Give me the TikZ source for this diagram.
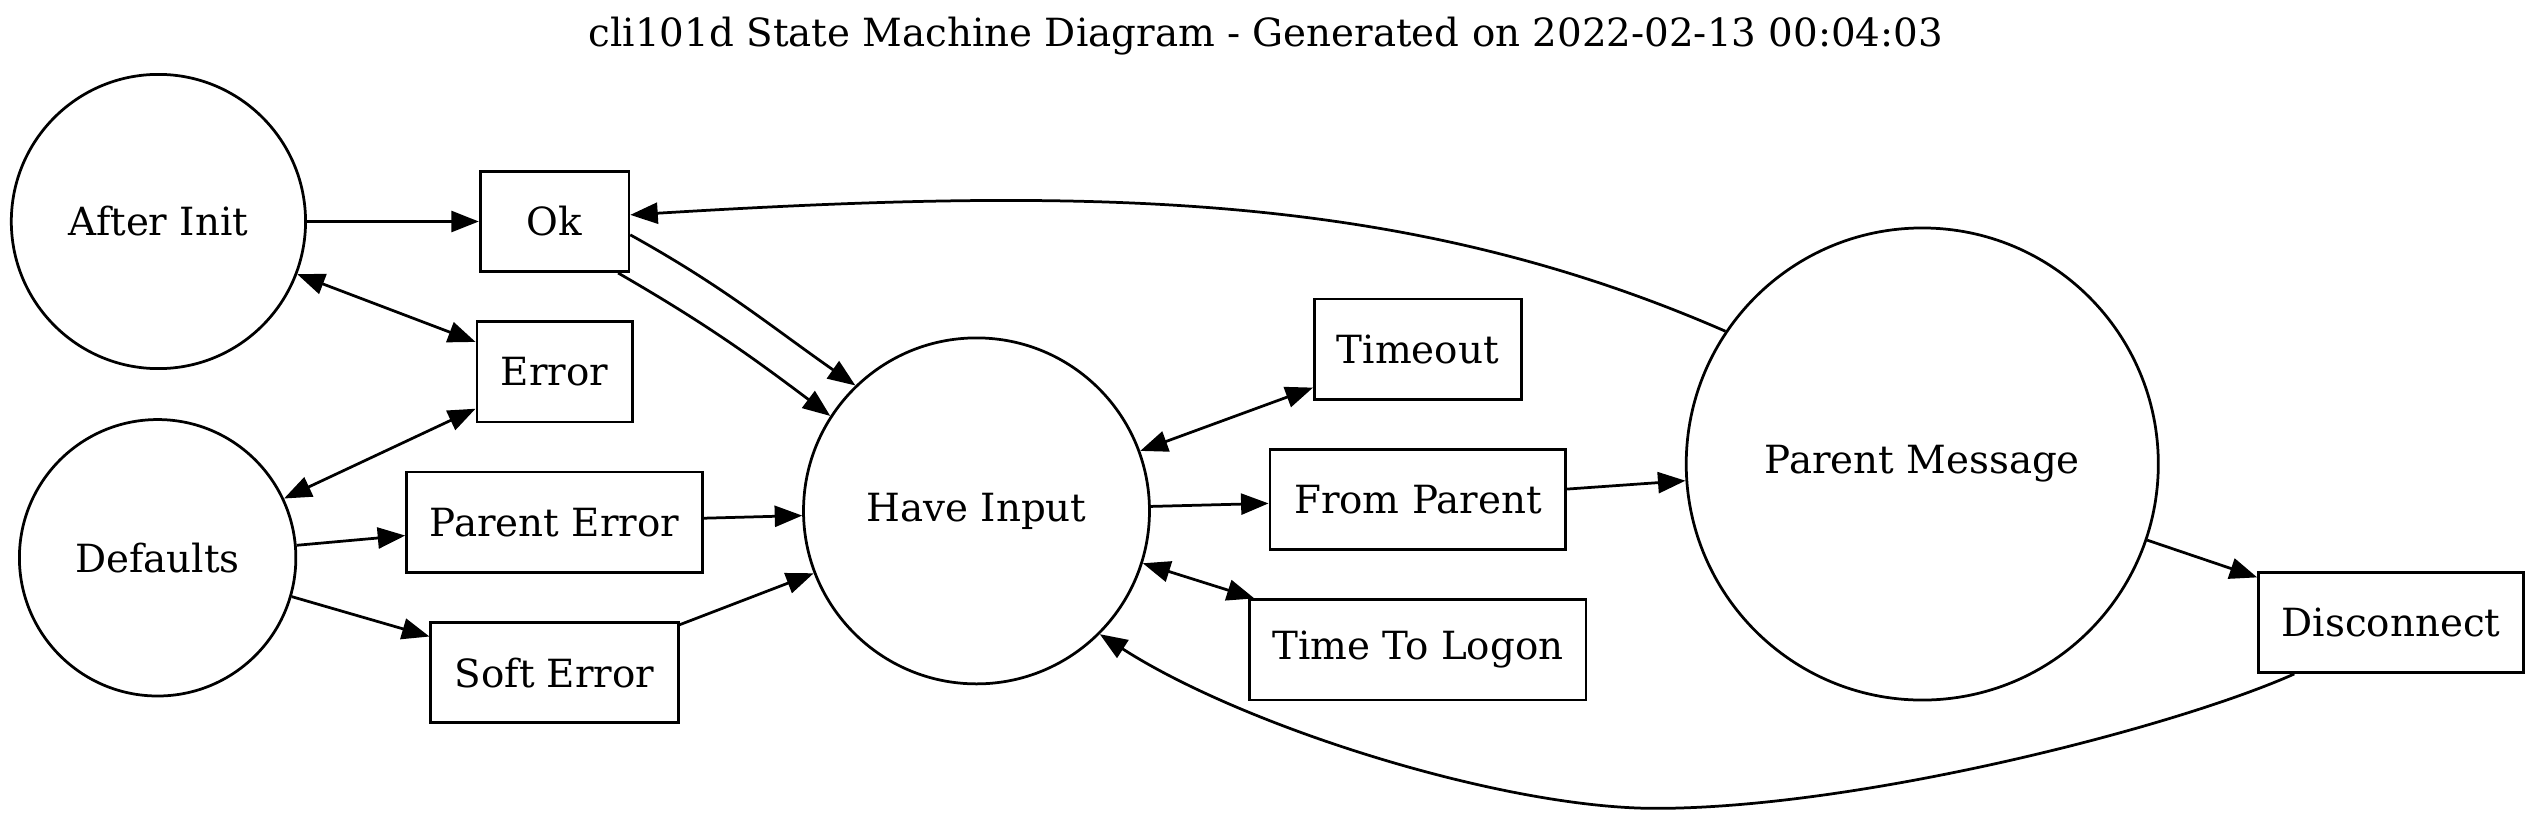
\documentclass[tikz,border=0pt]{standalone}
\usepackage{fontspec}
\setmainfont{DejaVu Serif}
\usetikzlibrary{arrows.meta}
\begin{document}
\begin{tikzpicture}[x=1pt,y=1pt,
  every node/.style={font=\fontsize{24}{28}\selectfont, inner sep=0pt, line width=1.7pt},
  st/.style={draw, circle},
  bx/.style={draw, rectangle, minimum height=62pt},
  tip/.tip={Triangle[length=17pt,width=13pt]},
  ed/.style={line width=1.7pt, -tip},
  bi/.style={line width=1.7pt, tip-tip}]
\useasboundingbox (0,0) rectangle (1568,-507.2);
\node (title) at (783,-22) {cli101d State Machine Diagram - Generated on 2022-02-13 00:04:03};
\node[st, minimum size=182pt] (ai) at (98,-137) {After Init};
\node[st, minimum size=171pt] (df) at (97.5,-345) {Defaults};
\node[bx, minimum width=92pt] (ok) at (343,-137) {Ok};
\node[bx, minimum width=96pt] (err) at (343,-230) {Error};
\node[bx, minimum width=183pt] (pe) at (343,-323) {Parent Error};
\node[bx, minimum width=153pt] (se) at (343,-416) {Soft Error};
\node[st, minimum size=214pt] (hi) at (604,-316) {Have Input};
\node[bx, minimum width=128pt] (to) at (877,-216) {Timeout};
\node[bx, minimum width=183pt] (fp) at (877,-309) {From Parent};
\node[bx, minimum width=208pt] (ttl) at (877,-402) {Time To Logon};
\node[st, minimum size=292pt] (pm) at (1189,-287) {Parent Message};
\node[bx, minimum width=164pt] (dis) at (1479,-385) {Disconnect};

\draw[ed] (ai) -- (ok);
\draw[bi] (ai) -- (err);
\draw[bi] (df) -- (err);
\draw[ed] (df) -- (pe);
\draw[ed] (df) -- (se);
\draw[ed] (ok.-10) to[out=-29,in=145] (hi.134);
\draw[ed] (ok.-39) to[out=-30,in=143] (hi.147);
\draw[ed] (pe) -- (hi);
\draw[ed] (se) -- (hi);
\draw[bi] (hi) -- (to);
\draw[ed] (hi) -- (fp);
\draw[bi] (hi) -- (ttl);
\draw[ed] (fp) -- (pm);
\draw[ed] (pm) -- (dis);
\draw[ed] (pm.146) .. controls +(-201.5,88) and +(280,17) .. (ok.5);
\draw[ed] (dis.208.5) .. controls (1345,-450) and (1150,-500) .. (1024,-500)
  .. controls (930,-500) and (770,-450) .. (hi.-45);
\end{tikzpicture}
\end{document}
